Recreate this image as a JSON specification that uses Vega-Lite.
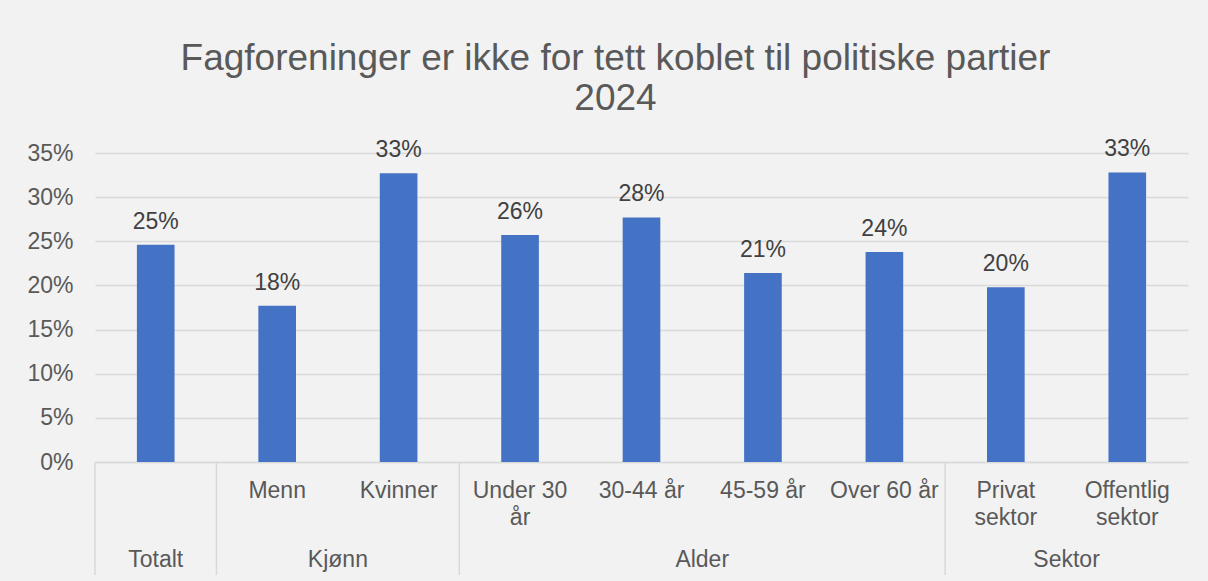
{
  "$schema": "https://vega.github.io/schema/vega-lite/v6.json",
  "width": 1093,
  "height": 309,
  "autosize": "none",
  "padding": {"left": 95, "top": 153, "right": 20, "bottom": 119},
  "background": "#f2f2f2",
  "title": {
    "text": ["Fagforeninger er ikke for tett koblet til politiske partier", "2024"],
    "font": "Liberation Sans",
    "fontSize": 37,
    "fontWeight": "normal",
    "color": "#595959",
    "lineHeight": 40,
    "anchor": "middle",
    "dx": -26,
    "offset": 20
  },
  "config": {"view": {"stroke": null}, "font": "Liberation Sans"},
  "datasets": {
    "andeler": [
      {"kategori": "Totalt", "andel": 0.246},
      {"kategori": "Menn", "andel": 0.177},
      {"kategori": "Kvinner", "andel": 0.327},
      {"kategori": "Under 30 år", "andel": 0.257},
      {"kategori": "30-44 år", "andel": 0.277},
      {"kategori": "45-59 år", "andel": 0.214},
      {"kategori": "Over 60 år", "andel": 0.238},
      {"kategori": "Privat sektor", "andel": 0.198},
      {"kategori": "Offentlig sektor", "andel": 0.328}
    ],
    "skille": [
      {"kategori": "Totalt"},
      {"kategori": "Menn"},
      {"kategori": "Under 30 år"},
      {"kategori": "Privat sektor"}
    ],
    "grupper": [
      {"kategori": "Kvinner", "gruppe": "Kjønn"},
      {"kategori": "45-59 år", "gruppe": "Alder"},
      {"kategori": "Offentlig sektor", "gruppe": "Sektor"}
    ],
    "totalgruppe": [
      {"kategori": "Totalt", "gruppe": "Totalt"}
    ]
  },
  "layer": [
    {
      "data": {"name": "andeler"},
      "mark": {"type": "bar", "color": "#4472c4", "width": {"band": 0.31}},
      "encoding": {
        "x": {
          "field": "kategori",
          "type": "nominal",
          "scale": {
            "domain": ["Totalt", "Menn", "Kvinner", "Under 30 år", "30-44 år", "45-59 år", "Over 60 år", "Privat sektor", "Offentlig sektor"],
            "paddingInner": 0,
            "paddingOuter": 0
          },
          "axis": {
            "title": null,
            "labelAngle": 0,
            "labelFontSize": 23,
            "labelColor": "#595959",
            "labelPadding": 17,
            "labelLineHeight": 27,
            "labelLimit": 300,
            "ticks": false,
            "domain": true,
            "domainColor": "#d9d9d9",
            "domainWidth": 1.5,
            "labelExpr": "datum.value == 'Totalt' ? '' : datum.value == 'Under 30 år' ? ['Under 30', 'år'] : datum.value == 'Privat sektor' ? ['Privat', 'sektor'] : datum.value == 'Offentlig sektor' ? ['Offentlig', 'sektor'] : datum.value"
          }
        },
        "y": {
          "field": "andel",
          "type": "quantitative",
          "scale": {"domain": [0, 0.35], "nice": false},
          "axis": {
            "title": null,
            "values": [0, 0.05, 0.1, 0.15, 0.2, 0.25, 0.3, 0.35],
            "format": ".0%",
            "labelFontSize": 23,
            "labelColor": "#595959",
            "labelPadding": 22,
            "ticks": false,
            "domain": false,
            "gridColor": "#d9d9d9",
            "gridWidth": 1.3
          }
        }
      }
    },
    {
      "data": {"name": "andeler"},
      "mark": {"type": "text", "fontSize": 23, "color": "#404040", "baseline": "alphabetic", "dy": -16},
      "encoding": {
        "x": {"field": "kategori", "type": "nominal"},
        "y": {"field": "andel", "type": "quantitative"},
        "text": {"field": "andel", "type": "quantitative", "format": ".0%"}
      }
    },
    {
      "data": {"name": "skille"},
      "mark": {"type": "rule", "color": "#d9d9d9", "strokeWidth": 1.5},
      "encoding": {
        "x": {"field": "kategori", "type": "nominal", "bandPosition": 0},
        "y": {"datum": 0},
        "y2": {"datum": -0.128}
      }
    },
    {
      "mark": {"type": "rule", "color": "#d9d9d9", "strokeWidth": 1.5},
      "encoding": {
        "x": {"datum": "Offentlig sektor", "bandPosition": 1},
        "y": {"datum": 0},
        "y2": {"datum": -0.128}
      }
    },
    {
      "data": {"name": "grupper"},
      "mark": {"type": "text", "fontSize": 23, "color": "#595959", "baseline": "middle"},
      "encoding": {
        "x": {"field": "kategori", "type": "nominal", "bandPosition": 0},
        "y": {"datum": -0.111},
        "text": {"field": "gruppe"}
      }
    },
    {
      "data": {"name": "totalgruppe"},
      "mark": {"type": "text", "fontSize": 23, "color": "#595959", "baseline": "middle"},
      "encoding": {
        "x": {"field": "kategori", "type": "nominal", "bandPosition": 0.5},
        "y": {"datum": -0.111},
        "text": {"field": "gruppe"}
      }
    }
  ]
}
